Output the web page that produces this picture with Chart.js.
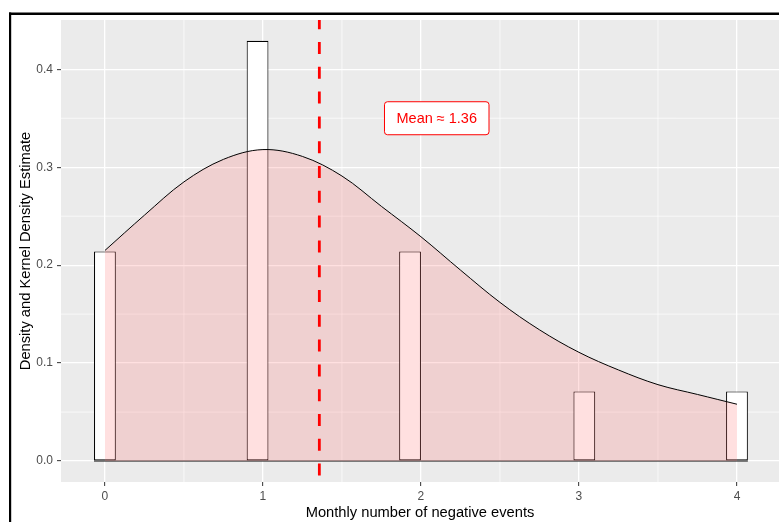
<!DOCTYPE html>
<html>
<head>
<meta charset="utf-8">
<script src="https://cdn.jsdelivr.net/npm/chart.js@4"></script>
<style>
  html, body { margin: 0; padding: 0; background: #fff; }
  canvas { display: block; }
</style>
</head>
<body>
<canvas id="chart" width="779" height="522"></canvas>
<script>
// Histogram bars: bin centre and density of each monthly count
const barX = [0, 0.966, 1.931, 3.034, 4];
const barDensity = [0.214, 0.429, 0.214, 0.071, 0.071];
const binWidth = 0.138;

// Kernel density estimate
const kdeX = [0, 0.25, 0.5, 0.75, 1, 1.25, 1.5, 1.75, 2, 2.25, 2.5, 2.75, 3, 3.25, 3.5, 3.75, 4];
const kdeY = [0.215, 0.251, 0.285, 0.308, 0.318, 0.311, 0.291, 0.260, 0.229, 0.195, 0.162, 0.134, 0.111, 0.093, 0.078, 0.068, 0.058];

const meanValue = 1.357;
const meanLabel = "Mean \u2248 1.36";
const labelPos = { x: 2.1, y: 0.35 };

const xTicks = [0, 1, 2, 3, 4];
const yTicks = [0, 0.1, 0.2, 0.3, 0.4];

const FONT = "'Liberation Sans', Arial, sans-serif";
Chart.defaults.font.family = FONT;

// Chart.js sizes bars from the smallest gap between bars/ticks,
// so turn the bin width into a percentage of that gap
const gaps = barX.slice(1).map((v, i) => v - barX[i]);
gaps.push(xTicks[1] - xTicks[0]);
const barPct = binWidth / Math.min(...gaps);

// grey panel, minor grid, mean line, label and frame
const ggPlugin = {
  id: 'gg',
  beforeDraw(chart) {
    const { ctx, chartArea: a } = chart;
    ctx.save();
    ctx.fillStyle = '#EBEBEB';
    ctx.fillRect(a.left, a.top, a.right - a.left, a.bottom - a.top);
    ctx.restore();
  },
  beforeDatasetsDraw(chart) {
    const { ctx, chartArea: a, scales: { x, y } } = chart;
    ctx.save();
    ctx.strokeStyle = '#FFFFFF';
    ctx.lineWidth = 0.7;
    ctx.beginPath();
    for (let i = 1; i < xTicks.length; i++) {
      const px = x.getPixelForValue((xTicks[i - 1] + xTicks[i]) / 2);
      ctx.moveTo(px, a.top);
      ctx.lineTo(px, a.bottom);
    }
    for (let i = 1; i < yTicks.length; i++) {
      const py = y.getPixelForValue((yTicks[i - 1] + yTicks[i]) / 2);
      ctx.moveTo(a.left, py);
      ctx.lineTo(a.right, py);
    }
    ctx.stroke();
    ctx.restore();
  },
  afterDatasetsDraw(chart) {
    const { ctx, chartArea: a, scales: { x, y } } = chart;
    ctx.save();
    // mean line
    const mx = x.getPixelForValue(meanValue);
    ctx.strokeStyle = '#FF0000';
    ctx.lineWidth = 2.8;
    ctx.setLineDash([12, 12.8]);
    ctx.lineDashOffset = 2.8;
    ctx.beginPath();
    ctx.moveTo(mx, a.top);
    ctx.lineTo(mx, a.bottom);
    ctx.stroke();
    ctx.setLineDash([]);

    // label box
    ctx.font = '14.5px ' + FONT;
    const tw = ctx.measureText(meanLabel).width;
    const cx = x.getPixelForValue(labelPos.x);
    const cy = y.getPixelForValue(labelPos.y);
    const w = tw + 24, h = 33;
    ctx.beginPath();
    ctx.roundRect(cx - w / 2, cy - h / 2, w, h, 3);
    ctx.fillStyle = '#FFFFFF';
    ctx.fill();
    ctx.strokeStyle = '#FF0000';
    ctx.lineWidth = 1;
    ctx.stroke();
    ctx.fillStyle = '#FF0000';
    ctx.textAlign = 'center';
    ctx.textBaseline = 'middle';
    ctx.fillText(meanLabel, cx, cy + 0.5);
    ctx.restore();
  },
  afterDraw(chart) {
    const { ctx, width } = chart;
    ctx.save();
    ctx.fillStyle = '#000000';
    ctx.fillRect(9, 12.5, width, 2.5);
    ctx.fillRect(9, 12.5, 2.2, chart.height);
    ctx.restore();
  }
};

new Chart(document.getElementById('chart'), {
  type: 'bar',
  data: {
    datasets: [
      {
        type: 'line',
        data: kdeX.map((v, i) => ({ x: v, y: kdeY[i] })),
        borderColor: '#000000',
        borderWidth: 1,
        backgroundColor: 'rgba(255,102,102,0.2)',
        fill: 'origin',
        pointRadius: 0,
        tension: 0.35
      },
      {
        // outline of the empty bins along the baseline
        type: 'line',
        data: [
          { x: barX[0] - binWidth / 2, y: 0 },
          { x: barX[barX.length - 1] + binWidth / 2, y: 0 }
        ],
        borderColor: '#111111',
        borderWidth: 1,
        pointRadius: 0,
        fill: false
      },
      {
        type: 'bar',
        data: barX.map((v, i) => ({ x: v, y: barDensity[i] })),
        backgroundColor: '#FFFFFF',
        borderColor: '#000000',
        borderWidth: 1.1,
        borderSkipped: false,
        categoryPercentage: 1,
        barPercentage: barPct
      }
    ]
  },
  options: {
    responsive: false,
    animation: false,
    layout: { padding: { top: 20, right: 0, left: 0, bottom: 0 } },
    plugins: { legend: { display: false }, tooltip: { enabled: false } },
    scales: {
      x: {
        type: 'linear',
        min: -0.278,
        max: 4.266,
        offset: false,
        afterBuildTicks: s => { s.ticks = xTicks.map(v => ({ value: v })); },
        afterFit: s => { s.height = 40; },
        grid: { color: '#FFFFFF', lineWidth: 1.3, offset: false, tickColor: '#333333', tickLength: 4, tickWidth: 1 },
        border: { display: false },
        ticks: {
          color: '#4D4D4D', font: { size: 12 }, padding: 3,
          autoSkip: false, maxRotation: 0, callback: v => String(v)
        },
        title: {
          display: true, text: 'Monthly number of negative events', color: '#000000',
          font: { size: 14.7 }, padding: { top: 0, bottom: 0 }
        }
      },
      y: {
        type: 'linear',
        min: -0.0214,
        max: 0.4503,
        afterBuildTicks: s => { s.ticks = yTicks.map(v => ({ value: v })); },
        afterFit: s => { s.width = 61; },
        grid: { color: '#FFFFFF', lineWidth: 1.3, tickColor: '#333333', tickLength: 4, tickWidth: 1 },
        border: { display: false },
        ticks: { color: '#4D4D4D', font: { size: 12 }, padding: 4, callback: v => v.toFixed(1) },
        title: {
          display: true, text: 'Density and Kernel Density Estimate', color: '#000000',
          font: { size: 14.7 }, padding: { top: 17, bottom: 0 }
        }
      }
    }
  },
  plugins: [ggPlugin]
});
</script>
</body>
</html>
